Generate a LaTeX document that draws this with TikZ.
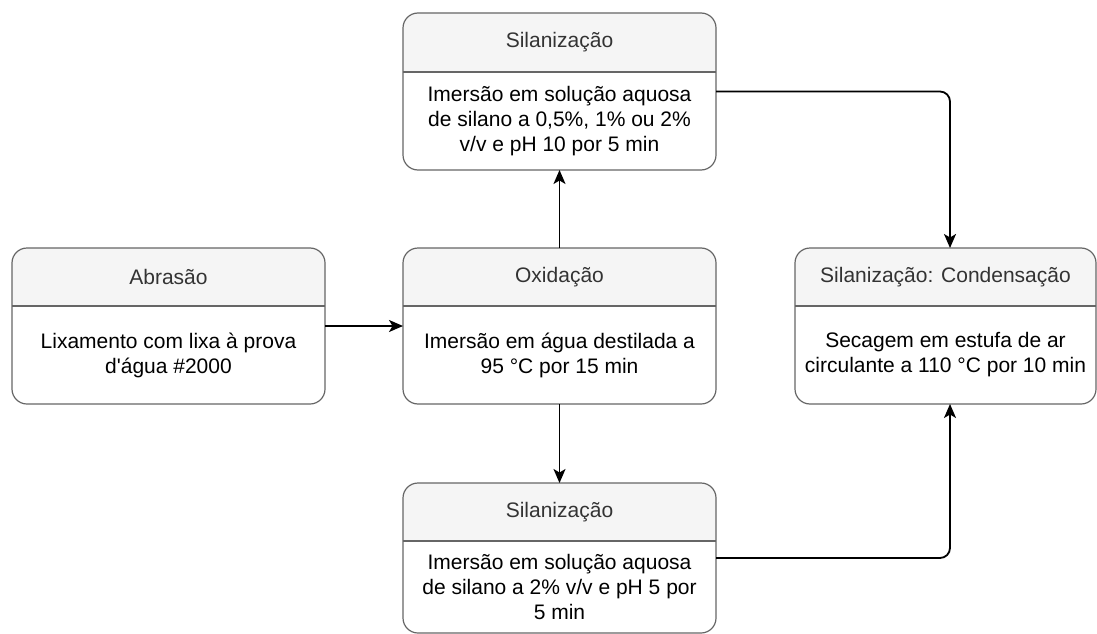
\documentclass[tikz,border=0pt]{standalone}
\usepackage{fontspec}
\setmainfont{Liberation Sans}[Ligatures=TeXOff]
\usetikzlibrary{arrows.meta,calc}
\definecolor{bordergray}{HTML}{666666}
\definecolor{headfill}{HTML}{F5F5F5}
\definecolor{headtextcol}{HTML}{333333}
\tikzset{
  boxshape/.style={rectangle, inner sep=0pt, outer sep=0pt},
  border/.style={draw=bordergray, line width=1.2pt},
  headtext/.style={text=headtextcol, font=\fontsize{21pt}{25pt}\selectfont, align=center, inner sep=0pt},
  bodytext/.style={text=black, font=\fontsize{21pt}{25pt}\selectfont, align=center, inner sep=0pt},
  arrowline/.style={draw=black, line width=1.8pt, -{Stealth[length=14pt, width=12pt, inset=3.5pt]}},
}
\newcommand{\procbox}[8]{%
  \node[boxshape, minimum width=#4pt, minimum height=#5pt] (#1) at (#2,#3) {};
  \begin{scope}
    \clip (#1.north west) rectangle ([yshift=-#6pt]#1.north east);
    \fill[headfill, rounded corners=15pt] (#1.north west) rectangle (#1.south east);
  \end{scope}
  \draw[border] ([yshift=-#6pt]#1.north west) -- ([yshift=-#6pt]#1.north east);
  \draw[border, rounded corners=15pt] (#1.north west) rectangle (#1.south east);
  \node[headtext] (#1-h) at ($(#1.north)!0.5!([yshift=-#6pt]#1.north)$) {#7};
  \node[bodytext] (#1-b) at ($([yshift=-#6pt]#1.north)!0.5!(#1.south)$) {#8};
}
\begin{document}
\begin{tikzpicture}[x=1pt, y=-1pt]
\useasboundingbox (0,0) rectangle (1097,634);
\procbox{abr}{168.5}{326}{313}{156}{58}{Abrasão}{Lixamento com lixa à prova\\d'água \#2000}
\procbox{oxi}{559.5}{326}{313}{156}{58}{Oxidação}{Imersão em água destilada a\\95 °C por 15 min}
\procbox{silA}{559.5}{91.5}{313}{157}{59}{Silanização}{Imersão em solução aquosa\\de silano a 0,5\%, 1\% ou 2\%\\v/v e pH 10 por 5 min}
\procbox{silB}{559.5}{558}{313}{150}{58}{Silanização}{Imersão em solução aquosa\\de silano a 2\% v/v e pH 5 por\\5 min}
\procbox{cond}{945.5}{326}{301}{156}{58}{Silanização: Condensação}{Secagem em estufa de ar\\circulante a 110 °C por 10 min}
\draw[arrowline] (abr.east) -- (oxi.west);
\draw[arrowline] (oxi.north) -- (silA.south);
\draw[arrowline] (oxi.south) -- (silB.north);
\draw[arrowline, rounded corners=10pt] (silA.east) -| ([xshift=4.5pt]cond.north);
\draw[arrowline, rounded corners=10pt] (silB.east) -| ([xshift=4.5pt]cond.south);
\end{tikzpicture}
\end{document}
